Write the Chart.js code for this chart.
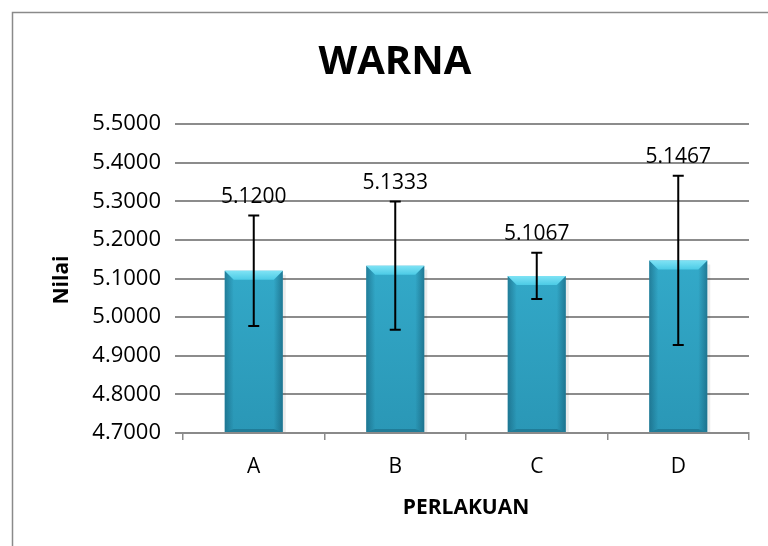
<!DOCTYPE html>
<html>
<head>
<meta charset="utf-8">
<script src="https://cdn.jsdelivr.net/npm/chart.js@4.4.1/dist/chart.umd.min.js"></script>
<style>
  html, body { margin: 0; padding: 0; background: #ffffff; }
  #wrap { position: relative; width: 768px; height: 546px; }
</style>
</head>
<body>
<div id="wrap"><canvas id="c" width="768" height="546"></canvas></div>
<script>
// ---- data ----
const categories = ['A', 'B', 'C', 'D'];
const means = [5.1200, 5.1333, 5.1067, 5.1467];
const errors = [0.143, 0.166, 0.060, 0.219];
const yMin = 4.7;
const yMax = 5.5;
const yStep = 0.1;
const chartTitle = 'WARNA';
const xTitle = 'PERLAKUAN';
const yTitle = 'Nilai';

const FONT = '"Open Sans", "Liberation Sans", sans-serif';

const decorPlugin = {
  id: 'decor',
  beforeDraw(chart) {
    const ctx = chart.ctx;
    ctx.save();
    ctx.fillStyle = '#ffffff';
    ctx.fillRect(0, 0, chart.width, chart.height);
    // outer frame
    ctx.strokeStyle = '#8a8a8a';
    ctx.lineWidth = 1.5;
    ctx.beginPath();
    ctx.moveTo(12.5, chart.height + 2);
    ctx.lineTo(12.5, 12.5);
    ctx.lineTo(chart.width + 2, 12.5);
    ctx.stroke();
    ctx.restore();
  },
  afterDraw(chart) {
    const ctx = chart.ctx;
    const area = chart.chartArea;
    ctx.save();
    ctx.fillStyle = '#000000';
    ctx.textAlign = 'center';
    ctx.textBaseline = 'middle';
    // title
    ctx.font = 'bold 40px ' + FONT;
    ctx.fillText(chartTitle, 395, 63);
    // x title
    ctx.font = 'bold 21px ' + FONT;
    ctx.fillText(xTitle, (area.left + area.right) / 2, 508);
    // y title
    ctx.save();
    ctx.translate(62, 280);
    ctx.rotate(-Math.PI / 2);
    ctx.font = 'bold 21px ' + FONT;
    ctx.fillText(yTitle, 0, 0);
    ctx.restore();
    ctx.restore();
  },
  afterDatasetsDraw(chart) {
    const ctx = chart.ctx;
    const meta = chart.getDatasetMeta(0);
    const yScale = chart.scales.y;
    const area = chart.chartArea;
    ctx.save();
    meta.data.forEach((bar, i) => {
      const w = bar.width;
      const left = bar.x - w / 2;
      const right = bar.x + w / 2;
      const top = bar.y;
      const base = Math.min(bar.base, area.bottom);
      const b = 9;
      // side edges
      let g = ctx.createLinearGradient(left, 0, left + b, 0);
      g.addColorStop(0, 'rgba(20,90,115,0.55)');
      g.addColorStop(1, 'rgba(20,90,115,0.0)');
      ctx.fillStyle = g;
      ctx.beginPath();
      ctx.moveTo(left, top); ctx.lineTo(left + b, top + b);
      ctx.lineTo(left + b, base - 3); ctx.lineTo(left, base);
      ctx.closePath(); ctx.fill();
      g = ctx.createLinearGradient(right - b, 0, right, 0);
      g.addColorStop(0, 'rgba(20,90,115,0.0)');
      g.addColorStop(1, 'rgba(20,90,115,0.6)');
      ctx.fillStyle = g;
      ctx.beginPath();
      ctx.moveTo(right, top); ctx.lineTo(right - b, top + b);
      ctx.lineTo(right - b, base - 3); ctx.lineTo(right, base);
      ctx.closePath(); ctx.fill();
      // bottom edge
      ctx.fillStyle = 'rgba(20,90,115,0.45)';
      ctx.beginPath();
      ctx.moveTo(left, base); ctx.lineTo(left + b, base - 3);
      ctx.lineTo(right - b, base - 3); ctx.lineTo(right, base);
      ctx.closePath(); ctx.fill();
      // top bevel
      g = ctx.createLinearGradient(0, top, 0, top + b);
      g.addColorStop(0, '#7fe3f5');
      g.addColorStop(1, '#4ccbe6');
      ctx.fillStyle = g;
      ctx.beginPath();
      ctx.moveTo(left, top); ctx.lineTo(right, top);
      ctx.lineTo(right - b, top + b); ctx.lineTo(left + b, top + b);
      ctx.closePath(); ctx.fill();
      // shadow on right
      ctx.fillStyle = 'rgba(0,0,0,0.08)';
      ctx.fillRect(right, top + 4, 3, base - top - 4);

      // error bar
      const v = means[i], e = errors[i];
      const yHi = yScale.getPixelForValue(v + e);
      const yLo = yScale.getPixelForValue(v - e);
      const cap = 5.5;
      ctx.strokeStyle = '#000000';
      ctx.lineWidth = 2;
      ctx.beginPath();
      ctx.moveTo(bar.x, yHi); ctx.lineTo(bar.x, yLo);
      ctx.moveTo(bar.x - cap, yHi); ctx.lineTo(bar.x + cap, yHi);
      ctx.moveTo(bar.x - cap, yLo); ctx.lineTo(bar.x + cap, yLo);
      ctx.stroke();

      // value label
      ctx.fillStyle = '#000000';
      ctx.font = '21px ' + FONT;
      ctx.textAlign = 'center';
      ctx.textBaseline = 'middle';
      ctx.fillText(v.toFixed(4), bar.x, yHi - 19);
    });
    ctx.restore();
  }
};

new Chart(document.getElementById('c'), {
  type: 'bar',
  data: {
    labels: categories,
    datasets: [{
      data: means,
      base: yMin,
      backgroundColor(context) {
        const chart = context.chart;
        const a = chart.chartArea;
        if (!a) return '#33b0d0';
        const g = chart.ctx.createLinearGradient(0, a.top, 0, a.bottom);
        g.addColorStop(0, '#3ab8d8');
        g.addColorStop(1, '#2a97b6');
        return g;
      },
      borderWidth: 0,
      barPercentage: 0.41,
      categoryPercentage: 1.0
    }]
  },
  options: {
    responsive: false,
    animation: false,
    devicePixelRatio: 1,
    layout: { padding: { left: 0, right: 19, top: 124, bottom: 0 } },
    plugins: {
      legend: { display: false },
      title: { display: false },
      tooltip: { enabled: false }
    },
    scales: {
      x: {
        afterFit(scale) { scale.height = 113; },
        grid: {
          display: true,
          drawOnChartArea: false,
          drawTicks: true,
          tickLength: 7,
          color: '#8a8a8a',
          lineWidth: 1.5,
          offset: true
        },
        border: { display: true, color: '#8a8a8a', width: 2 },
        ticks: {
          color: '#000000',
          font: { family: FONT, size: 21 },
          padding: 14
        }
      },
      y: {
        min: yMin,
        max: yMax,
        afterFit(scale) { scale.width = 183; },
        grid: {
          display: true,
          drawTicks: true,
          tickLength: 8,
          color: '#8c8c8c',
          lineWidth: 2
        },
        border: { display: false },
        ticks: {
          stepSize: yStep,
          color: '#000000',
          font: { family: FONT, size: 22 },
          padding: 14,
          callback(value) { return Number(value).toFixed(4); }
        }
      }
    }
  },
  plugins: [decorPlugin]
});
</script>
</body>
</html>
